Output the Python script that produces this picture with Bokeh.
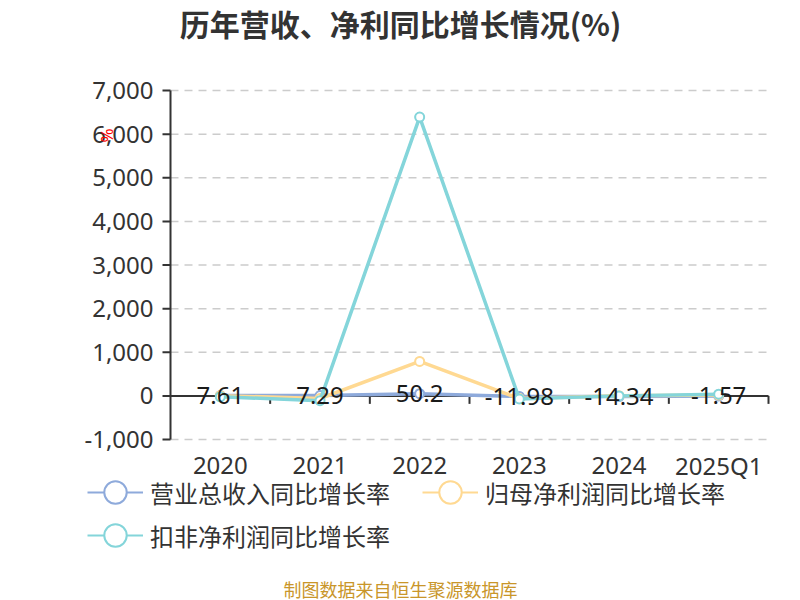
from bokeh.plotting import figure
from bokeh.models import Range1d, Label, Legend, LegendItem, ColumnDataSource
from bokeh.embed import file_html
from bokeh.resources import INLINE
from bokeh.core.properties import value

# ---- data ----
categories = ["2020", "2021", "2022", "2023", "2024", "2025Q1"]
revenue_growth = [7.61, 7.29, 50.2, -11.98, -14.34, -1.57]
parent_profit_growth = [5, -60, 790, -60, 5, 20]
deducted_profit_growth = [-20, -110, 6390, -70, 0, 40]
y_ticks = [-1000, 0, 1000, 2000, 3000, 4000, 5000, 6000, 7000]
series_names = ["营业总收入同比增长率", "归母净利润同比增长率", "扣非净利润同比增长率"]
title_text = "历年营收、净利同比增长情况(%)"
footer_text = "制图数据来自恒生聚源数据库"

# ---- style / geometry ----
C_REV = "#8eaadb"
C_PAR = "#ffd992"
C_DED = "#84d5da"
TXT = "#333333"
FONT = "Noto Sans CJK SC"
NUM_FONT = "Noto Sans"
W, H = 800, 600
CL, CR, CT, CB = 170, 768, 90, 439        # plotting area in page px

n = len(categories)
ymin, ymax = y_ticks[0], y_ticks[-1]
kx = (CR - CL) / n                         # px per category
ky = (CB - CT) / (ymax - ymin)             # px per unit

def X(px):      # page px -> x data
    return (px - CL) / kx

def Y(py):      # page px -> y data
    return ymax - (py - CT) / ky

def DX(px):     # px length -> x data length
    return px / kx

def DY(px):     # px length -> y data length
    return px / ky

xs = [i + 0.5 for i in range(n)]

p = figure(width=W, height=H, output_backend="svg", toolbar_location=None,
           x_range=Range1d(X(0), X(W)), y_range=Range1d(Y(H), Y(0)),
           x_axis_type=None, y_axis_type=None,
           min_border=0, min_border_left=0, min_border_right=0,
           min_border_top=0, min_border_bottom=0)
p.outline_line_color = None
p.xgrid.visible = False
p.ygrid.visible = False
p.background_fill_color = "white"
p.border_fill_color = "white"

# ---- y axis: grid, axis line, ticks, labels ----
grid_vals = [t for t in y_ticks if t != 0]
p.segment(x0=[0] * len(grid_vals), y0=grid_vals, x1=[n] * len(grid_vals), y1=grid_vals,
          line_color="#cccccc", line_width=1.5, line_dash="8 6")
p.segment(x0=[0], y0=[ymin], x1=[0], y1=[ymax], line_color=TXT, line_width=2)
p.segment(x0=[-DX(8)] * len(y_ticks), y0=y_ticks, x1=[0] * len(y_ticks), y1=y_ticks,
          line_color=TXT, line_width=2)
ysrc = ColumnDataSource(dict(y=y_ticks, t=[f"{t:,}" for t in y_ticks]))
p.text(x=-DX(17), y="y", text="t", source=ysrc, text_align="right",
       text_baseline="middle", text_font=value(NUM_FONT), text_font_size="24px",
       text_color=TXT)

# ---- x axis on zero line, with ticks between categories, labels at bottom ----
p.segment(x0=[0], y0=[0], x1=[n], y1=[0], line_color=TXT, line_width=2)
bx = list(range(1, n + 1))
p.segment(x0=bx, y0=[0] * n, x1=bx, y1=[-DY(8)] * n, line_color=TXT, line_width=2)
xsrc = ColumnDataSource(dict(x=xs, t=categories))
p.text(x="x", y=Y(465), text="t", source=xsrc, text_align="center",
       text_baseline="middle", text_font=value(NUM_FONT), text_font_size="24px",
       text_color=TXT)

# ---- series ----
legend_renderers = []
for vals, col in [(revenue_growth, C_REV), (parent_profit_growth, C_PAR),
                  (deducted_profit_growth, C_DED)]:
    # thin copies (fully covered by the main strokes) used for the legend icons
    llr = p.line(xs, vals, line_color=col, line_width=2)
    lsr = p.scatter(xs, vals, marker="circle", size=8, fill_color="white",
                    line_color=col, line_width=2)
    legend_renderers.append([llr, lsr])
    p.line(xs, vals, line_color=col, line_width=3.5)
    p.scatter(xs, vals, marker="circle", size=9, fill_color="white",
              line_color=col, line_width=2)

# data labels (revenue growth)
src = ColumnDataSource(dict(x=xs, y=revenue_growth,
                            t=[f"{v:g}" for v in revenue_growth]))
p.text(x="x", y="y", text="t", source=src, text_align="center",
       text_baseline="middle", text_font=value(NUM_FONT),
       text_font_size="24px", text_color="#1a1a1a")

# ---- legend ----
items = [LegendItem(label=name, renderers=rs)
         for name, rs in zip(series_names, legend_renderers)]

GW = GH = 56
def make_legend(its, row_center):
    # location = bottom-left corner of the legend box, from the canvas bottom
    return Legend(items=its, location=(87, H - (row_center + GH / 2)),
                  orientation="horizontal", glyph_width=GW, glyph_height=GH,
                  label_standoff=7, spacing=32, padding=0, margin=0,
                  border_line_color=None, background_fill_alpha=0,
                  label_text_font=FONT, label_text_font_size="24px",
                  label_text_color=TXT)

p.add_layout(make_legend(items[:2], 492))
p.add_layout(make_legend(items[2:], 535))

# ---- title, footer, unit mark ----
p.add_layout(Label(x=X(400), y=Y(22), text=title_text, text_align="center",
                   text_baseline="middle", text_font=FONT, text_font_style="bold",
                   text_font_size="30px", text_color=TXT))
p.add_layout(Label(x=X(400), y=Y(588), text=footer_text, text_align="center",
                   text_baseline="middle", text_font=FONT, text_font_size="18px",
                   text_color="#c9962a"))
p.add_layout(Label(x=X(106), y=Y(135), text="%", text_align="center",
                   text_baseline="middle", text_font=NUM_FONT, text_font_size="17px",
                   angle=90, angle_units="deg", text_color="#ff0000"))

open("out.html", "w").write(file_html(p, INLINE))
